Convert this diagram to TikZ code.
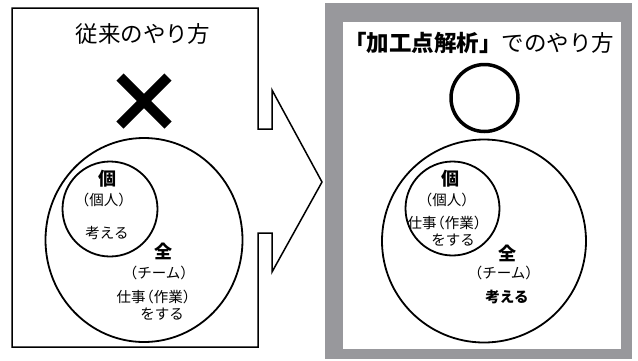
\documentclass[tikz,border=0pt]{standalone}
\usepackage{fontspec}
\setmainfont{Noto Sans CJK JP}
\newfontfamily\jp{Noto Sans CJK JP}
\definecolor{framegray}{HTML}{98989C}
\newcommand{\lpar}{\hspace{-0.42em}（}
\newcommand{\rpar}{）\hspace{-0.42em}}
\begin{document}
\begin{tikzpicture}[x=1pt,y=-1pt,
  txt/.style={inner sep=0pt,font=\jp\fontsize{14.5}{16}\selectfont},
  bigtxt/.style={inner sep=0pt,font=\jp\bfseries\fontsize{18}{20}\selectfont},
  boldtxt/.style={inner sep=0pt,font=\jp\bfseries\fontsize{14.5}{16}\selectfont},
  titletxt/.style={inner sep=0pt,font=\jp\fontsize{22.5}{24}\selectfont},
  ring/.style={draw=black,line width=1.8pt,fill=none}]
\useasboundingbox (0,0) rectangle (638,360);
\fill[white] (0,0) rectangle (638,360);
% left box with arrow
\draw[line width=1.5pt,line join=miter] (12,8) -- (258,8) -- (258,129) -- (272,129) -- (272,90) -- (322,182) -- (272,272) -- (272,233) -- (258,233) -- (258,347) -- (12,347) -- cycle;
% right gray frame
\fill[framegray] (325,3) rectangle (632,359);
\fill[white] (343,22) rectangle (621,349);
% titles
\node[titletxt] (t1) at (143,34) {従来のやり方};
\node[titletxt] (t2) at (479,43) {{\bfseries 「加工点解析」}でのやり方};
% cross
\coordinate (xc) at (144,101);
\draw[line width=10pt,line cap=butt] (120,77) -- (168,125);
\draw[line width=10pt,line cap=butt] (168,77) -- (120,125);
% left circles
\draw[ring] (144,240) ellipse [x radius=98.5, y radius=102];
\draw[ring] (110,209) circle [radius=47.5];
\node[bigtxt] (l1) at (107,179) {個};
\node[txt] (l2) at (107,200) {\lpar 個人\rpar};
\node[txt] (l3) at (107,233) {考える};
\node[bigtxt] (l4) at (163,251) {全};
\node[txt] (l5) at (162,273) {\lpar チーム\rpar};
\node[txt] (l6) at (157,297) {仕事\lpar 作業\rpar};
\node[txt] (l7) at (162,314) {をする};
% right circles
\draw[draw=black,line width=3.5pt] (484.5,98) circle [radius=33.5];
\draw[ring] (484,241) ellipse [x radius=102, y radius=101.5];
\draw[ring] (452.5,208.5) circle [radius=47];
\node[bigtxt] (r1) at (450,179) {個};
\node[txt] (r2) at (450,200) {\lpar 個人\rpar};
\node[txt] (r3) at (448,223) {仕事\lpar 作業\rpar};
\node[txt] (r4) at (453,240) {をする};
\node[bigtxt] (r5) at (507,253) {全};
\node[txt] (r6) at (507,273) {\lpar チーム\rpar};
\node[boldtxt] (r7) at (507,297) {考える};
\end{tikzpicture}
\end{document}
